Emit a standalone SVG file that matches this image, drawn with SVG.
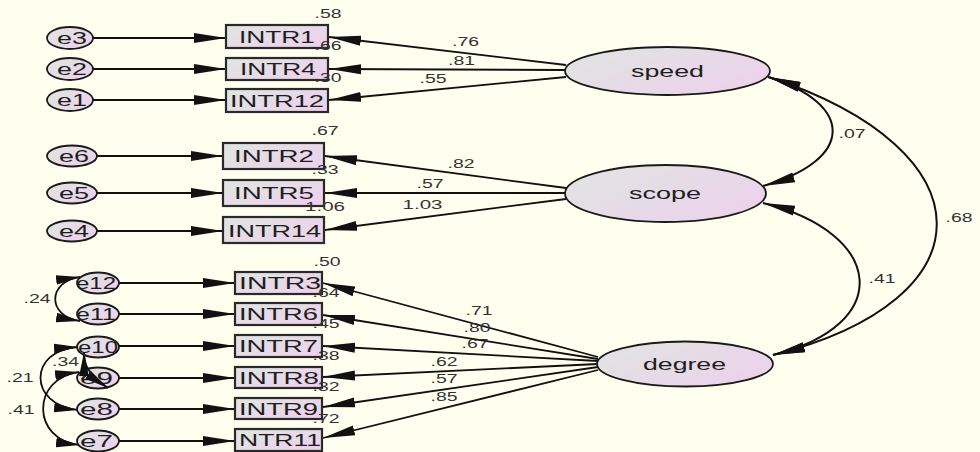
<svg xmlns="http://www.w3.org/2000/svg" width="980" height="452" viewBox="0 0 980 452">
  <style>
    .bg { fill: #FFFFF0; }
    .obs { fill: url(#shade); stroke: #2a2a2a; stroke-width: 2.2; }
    .lat { fill: url(#shade); stroke: #1a1a1a; stroke-width: 1.8; }
    .err { fill: url(#shade); stroke: #1a1a1a; stroke-width: 1.8; }
    .lbl { font-family: "Liberation Sans", Arial, sans-serif; font-size: 16.5px; fill: #1e1e1e; }
    .num { font-family: "Liberation Sans", Arial, sans-serif; font-size: 12px; fill: #333; }
    .path { fill: none; stroke: #111; stroke-width: 1.8; marker-end: url(#head); }
    .cov { fill: none; stroke: #111; stroke-width: 2; marker-start: url(#head); marker-end: url(#head); }
    .covs { fill: none; stroke: #111; stroke-width: 1.8; marker-start: url(#headS); marker-end: url(#headS); }
  </style>
  <defs>
    <linearGradient id="shade" x1="0" y1="0.2" x2="1" y2="0.8">
      <stop offset="0" stop-color="#E0E4E2"/>
      <stop offset="1" stop-color="#EDD1EC"/>
    </linearGradient>
    <marker id="head" markerUnits="userSpaceOnUse" markerWidth="33" markerHeight="12" refX="32" refY="6" orient="auto-start-reverse">
      <path d="M0,1 L32,6 L0,11 Z" fill="#111"/>
    </marker>
    <marker id="headS" markerUnits="userSpaceOnUse" markerWidth="25" markerHeight="12" refX="24" refY="6" orient="auto-start-reverse">
      <path d="M0,1.2 L24,6 L0,10.8 Z" fill="#111"/>
    </marker>
  </defs>

  <rect class="bg" x="0" y="0" width="980" height="452"/>

  <!-- connectors: error terms, loadings, covariances -->
  <g id="connectors">
    <line class="path" x1="93" y1="38" x2="226" y2="38"/>
    <line class="path" x1="93" y1="69" x2="226" y2="69"/>
    <line class="path" x1="93" y1="100" x2="226" y2="100"/>
    <line class="path" x1="97" y1="156" x2="223" y2="156"/>
    <line class="path" x1="97" y1="193" x2="223" y2="193"/>
    <line class="path" x1="97" y1="231" x2="223" y2="231"/>
    <line class="path" x1="119" y1="283" x2="235" y2="283"/>
    <line class="path" x1="119" y1="314" x2="235" y2="314"/>
    <line class="path" x1="119" y1="346" x2="235" y2="346"/>
    <line class="path" x1="119" y1="378" x2="235" y2="378"/>
    <line class="path" x1="119" y1="409" x2="235" y2="409"/>
    <line class="path" x1="119" y1="441" x2="235" y2="441"/>

    <line class="path" x1="566" y1="65" x2="329" y2="37"/>
    <line class="path" x1="565" y1="70" x2="329" y2="69"/>
    <line class="path" x1="566" y1="77" x2="329" y2="100"/>
    <line class="path" x1="566" y1="188" x2="325" y2="156"/>
    <line class="path" x1="565" y1="193" x2="325" y2="193"/>
    <line class="path" x1="566" y1="199" x2="325" y2="230"/>
    <line class="path" x1="598" y1="357" x2="323" y2="283"/>
    <line class="path" x1="598" y1="359" x2="323" y2="315"/>
    <line class="path" x1="598" y1="361" x2="323" y2="346"/>
    <line class="path" x1="598" y1="364" x2="323" y2="377"/>
    <line class="path" x1="598" y1="367" x2="323" y2="407"/>
    <line class="path" x1="598" y1="370" x2="323" y2="438"/>

    <path class="cov" d="M768,77 C855,104 855,160 763,186"/>
    <path class="cov" d="M769,77 C992,151 992,300 773,355"/>
    <path class="cov" d="M763,203 C885,233 895,325 773,355"/>

    <path class="covs" d="M80,277 C48,281 46,316 80,321"/>
    <path class="covs" d="M78,347 C28,350 28,405 78,410"/>
    <path class="covs" d="M79,372 C31,378 31,440 80,445"/>
  </g>

  <!-- latent factors -->
  <g id="speed">
    <ellipse class="lat" cx="667.5" cy="71" rx="102.5" ry="24"/>
    <text class="lbl" x="631" y="77" textLength="73" lengthAdjust="spacingAndGlyphs">speed</text>
  </g>
  <g id="scope">
    <ellipse class="lat" cx="665.5" cy="193.5" rx="100.5" ry="28.5"/>
    <text class="lbl" x="629" y="199" textLength="72" lengthAdjust="spacingAndGlyphs">scope</text>
  </g>
  <g id="degree">
    <ellipse class="lat" cx="685" cy="364" rx="88" ry="22.5"/>
    <text class="lbl" x="643" y="369.5" textLength="83" lengthAdjust="spacingAndGlyphs">degree</text>
  </g>

  <!-- observed indicators -->
  <g id="INTR1"><rect class="obs" x="226" y="25" width="102" height="23"/><text class="lbl" x="239" y="42.5" textLength="76" lengthAdjust="spacingAndGlyphs">INTR1</text></g>
  <g id="INTR4"><rect class="obs" x="226" y="58" width="102" height="22"/><text class="lbl" x="240" y="75" textLength="76" lengthAdjust="spacingAndGlyphs">INTR4</text></g>
  <g id="INTR12"><rect class="obs" x="226" y="89" width="102" height="23"/><text class="lbl" x="230" y="106.5" textLength="94" lengthAdjust="spacingAndGlyphs">INTR12</text></g>
  <g id="INTR2"><rect class="obs" x="223" y="143" width="101" height="26"/><text class="lbl" x="234" y="162" textLength="80" lengthAdjust="spacingAndGlyphs">INTR2</text></g>
  <g id="INTR5"><rect class="obs" x="223" y="180" width="101" height="26"/><text class="lbl" x="234" y="199" textLength="80" lengthAdjust="spacingAndGlyphs">INTR5</text></g>
  <g id="INTR14"><rect class="obs" x="223" y="217" width="101" height="26"/><text class="lbl" x="228" y="236.5" textLength="93" lengthAdjust="spacingAndGlyphs">INTR14</text></g>
  <g id="INTR3"><rect class="obs" x="235" y="272" width="87" height="22"/><text class="lbl" x="239" y="289" textLength="82" lengthAdjust="spacingAndGlyphs">INTR3</text></g>
  <g id="INTR6"><rect class="obs" x="235" y="303" width="87" height="22"/><text class="lbl" x="239" y="320" textLength="79" lengthAdjust="spacingAndGlyphs">INTR6</text></g>
  <g id="INTR7"><rect class="obs" x="235" y="335" width="87" height="22"/><text class="lbl" x="239" y="352" textLength="79" lengthAdjust="spacingAndGlyphs">INTR7</text></g>
  <g id="INTR8"><rect class="obs" x="235" y="367" width="87" height="21"/><text class="lbl" x="239" y="383.5" textLength="80" lengthAdjust="spacingAndGlyphs">INTR8</text></g>
  <g id="INTR9"><rect class="obs" x="235" y="398" width="87" height="21"/><text class="lbl" x="239" y="414.5" textLength="79" lengthAdjust="spacingAndGlyphs">INTR9</text></g>
  <g id="NTR11"><rect class="obs" x="235" y="429" width="87" height="22"/><text class="lbl" x="239" y="446" textLength="82" lengthAdjust="spacingAndGlyphs">NTR11</text></g>

  <!-- error terms -->
  <g id="e3"><ellipse class="err" cx="70" cy="38" rx="23" ry="11"/><text class="lbl" x="57" y="43.5" textLength="30" lengthAdjust="spacingAndGlyphs">e3</text></g>
  <g id="e2"><ellipse class="err" cx="70" cy="69" rx="23" ry="11"/><text class="lbl" x="57" y="74.5" textLength="30" lengthAdjust="spacingAndGlyphs">e2</text></g>
  <g id="e1"><ellipse class="err" cx="70" cy="100" rx="23" ry="11"/><text class="lbl" x="57" y="105.5" textLength="30" lengthAdjust="spacingAndGlyphs">e1</text></g>
  <g id="e6"><ellipse class="err" cx="72" cy="156" rx="25" ry="10.5"/><text class="lbl" x="59" y="161.5" textLength="30" lengthAdjust="spacingAndGlyphs">e6</text></g>
  <g id="e5"><ellipse class="err" cx="72" cy="193" rx="25" ry="10.5"/><text class="lbl" x="59" y="198.5" textLength="30" lengthAdjust="spacingAndGlyphs">e5</text></g>
  <g id="e4"><ellipse class="err" cx="72" cy="231" rx="25" ry="10.5"/><text class="lbl" x="59" y="236.5" textLength="30" lengthAdjust="spacingAndGlyphs">e4</text></g>
  <g id="e12"><ellipse class="err" cx="98" cy="283" rx="21" ry="10.5"/><text class="lbl" x="76" y="288.5" textLength="40" lengthAdjust="spacingAndGlyphs">e12</text></g>
  <g id="e11"><ellipse class="err" cx="98" cy="314" rx="21" ry="10.5"/><text class="lbl" x="76" y="319.5" textLength="40" lengthAdjust="spacingAndGlyphs">e11</text></g>
  <g id="e10"><ellipse class="err" cx="98" cy="347" rx="21" ry="10.5"/><text class="lbl" x="78" y="352.5" textLength="40" lengthAdjust="spacingAndGlyphs">e10</text></g>
  <g id="e9"><ellipse class="err" cx="98" cy="378" rx="21" ry="10.5"/><text class="lbl" x="80" y="383.5" textLength="33" lengthAdjust="spacingAndGlyphs">e9</text></g>
  <g id="e8"><ellipse class="err" cx="98" cy="409" rx="21" ry="10.5"/><text class="lbl" x="80" y="414.5" textLength="33" lengthAdjust="spacingAndGlyphs">e8</text></g>
  <g id="e7"><ellipse class="err" cx="98" cy="441" rx="21" ry="10.5"/><text class="lbl" x="80" y="446.5" textLength="33" lengthAdjust="spacingAndGlyphs">e7</text></g>

  <!-- short e10–e9 covariance, drawn above the two error terms it links -->
  <g id="connectors-front">
    <path class="covs" d="M84,352 C84,360 84,372 108,388"/>
  </g>

  <!-- estimates: squared multiple correlations, loadings, covariances -->
  <g id="estimates">
    <text class="num" x="314.5" y="18" textLength="27" lengthAdjust="spacingAndGlyphs">.58</text>
    <text class="num" x="314.5" y="50" textLength="27" lengthAdjust="spacingAndGlyphs">.66</text>
    <text class="num" x="314.5" y="82" textLength="27" lengthAdjust="spacingAndGlyphs">.30</text>
    <text class="num" x="311.5" y="135" textLength="27" lengthAdjust="spacingAndGlyphs">.67</text>
    <text class="num" x="311.5" y="174" textLength="27" lengthAdjust="spacingAndGlyphs">.33</text>
    <text class="num" x="305" y="211" textLength="40" lengthAdjust="spacingAndGlyphs">1.06</text>
    <text class="num" x="313.5" y="266" textLength="27" lengthAdjust="spacingAndGlyphs">.50</text>
    <text class="num" x="312.5" y="297" textLength="27" lengthAdjust="spacingAndGlyphs">.64</text>
    <text class="num" x="312.5" y="328" textLength="27" lengthAdjust="spacingAndGlyphs">.45</text>
    <text class="num" x="312.5" y="360" textLength="27" lengthAdjust="spacingAndGlyphs">.38</text>
    <text class="num" x="312.5" y="391" textLength="27" lengthAdjust="spacingAndGlyphs">.32</text>
    <text class="num" x="312.5" y="423" textLength="27" lengthAdjust="spacingAndGlyphs">.72</text>

    <text class="num" x="452" y="46" textLength="27" lengthAdjust="spacingAndGlyphs">.76</text>
    <text class="num" x="448" y="65" textLength="27" lengthAdjust="spacingAndGlyphs">.81</text>
    <text class="num" x="419.5" y="83" textLength="27" lengthAdjust="spacingAndGlyphs">.55</text>
    <text class="num" x="447.5" y="168" textLength="27" lengthAdjust="spacingAndGlyphs">.82</text>
    <text class="num" x="416.5" y="188" textLength="27" lengthAdjust="spacingAndGlyphs">.57</text>
    <text class="num" x="402.5" y="209" textLength="40" lengthAdjust="spacingAndGlyphs">1.03</text>
    <text class="num" x="465.5" y="315" textLength="27" lengthAdjust="spacingAndGlyphs">.71</text>
    <text class="num" x="463.5" y="332" textLength="27" lengthAdjust="spacingAndGlyphs">.80</text>
    <text class="num" x="461.5" y="348" textLength="27" lengthAdjust="spacingAndGlyphs">.67</text>
    <text class="num" x="430.5" y="366" textLength="27" lengthAdjust="spacingAndGlyphs">.62</text>
    <text class="num" x="430.5" y="383" textLength="27" lengthAdjust="spacingAndGlyphs">.57</text>
    <text class="num" x="430.5" y="401" textLength="27" lengthAdjust="spacingAndGlyphs">.85</text>

    <text class="num" x="838.5" y="138" textLength="27" lengthAdjust="spacingAndGlyphs">.07</text>
    <text class="num" x="945.5" y="222" textLength="27" lengthAdjust="spacingAndGlyphs">.68</text>
    <text class="num" x="868.5" y="283" textLength="27" lengthAdjust="spacingAndGlyphs">.41</text>
    <text class="num" x="23.5" y="303" textLength="27" lengthAdjust="spacingAndGlyphs">.24</text>
    <text class="num" x="52" y="366" textLength="27" lengthAdjust="spacingAndGlyphs">.34</text>
    <text class="num" x="6.5" y="382" textLength="27" lengthAdjust="spacingAndGlyphs">.21</text>
    <text class="num" x="7.5" y="414" textLength="27" lengthAdjust="spacingAndGlyphs">.41</text>
  </g>
</svg>
